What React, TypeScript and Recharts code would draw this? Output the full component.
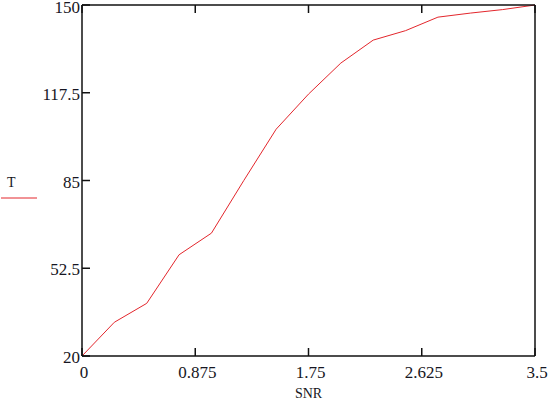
import { LineChart, Line, XAxis, YAxis } from "recharts";

// SNR values (x) and T values (y)
const snr = [0, 0.25, 0.5, 0.75, 1.0, 1.25, 1.5, 1.75, 2.0, 2.25, 2.5, 2.75, 3.0, 3.25, 3.5];
const tValues = [20, 32.5, 39.5, 57.5, 65.5, 85, 104, 117, 128.5, 137, 140.5, 145.5, 147, 148.3, 150];

const xTicks = [0, 0.875, 1.75, 2.625, 3.5];
const yTicks = [20, 52.5, 85, 117.5, 150];

const data = snr.map((s, i) => ({ snr: s, t: tValues[i] }));

const FONT = "'Liberation Serif', 'Times New Roman', serif";
const AXIS = "#111";
const TEXT = "#161622";
const RED = "#e3262c";
const TICK_LEN = 8;
const AXIS_LINE = { stroke: AXIS, strokeWidth: 1.5 };

// ticks point inward, like the original plot
const BottomTick = ({ x, y, payload }: any) => (
  <g>
    <line x1={x} y1={y} x2={x} y2={y - TICK_LEN} stroke={AXIS} strokeWidth={1.5} />
    <text x={x + 2} y={y + 22} textAnchor="middle" fontFamily={FONT} fontSize={17} fill={TEXT}>
      {payload.value}
    </text>
  </g>
);

const TopTick = ({ x, y }: any) => (
  <line x1={x} y1={y} x2={x} y2={y + TICK_LEN} stroke={AXIS} strokeWidth={1.5} />
);

const LeftTick = ({ x, y, payload }: any) => (
  <g>
    <line x1={x} y1={y} x2={x + TICK_LEN} y2={y} stroke={AXIS} strokeWidth={1.5} />
    {/* keep the top label inside the page */}
    <text x={x - 2} y={Math.max(y + 7, 13)} textAnchor="end" fontFamily={FONT} fontSize={17} fill={TEXT}>
      {payload.value}
    </text>
  </g>
);

const RightTick = ({ x, y }: any) => (
  <line x1={x} y1={y} x2={x - TICK_LEN} y2={y} stroke={AXIS} strokeWidth={1.5} />
);

const YTitle = () => (
  <g>
    <text x={7} y={187} fontFamily={FONT} fontSize={14} fill={TEXT}>
      T
    </text>
    <line x1={1} y1={198} x2={37} y2={198} stroke={RED} strokeWidth={1} />
  </g>
);

const XTitle = () => (
  <text x={308.5} y={398} textAnchor="middle" fontFamily={FONT} fontSize={14} fill={TEXT}>
    SNR
  </text>
);

export default function App() {
  return (
    <div style={{ position: "absolute", left: 0, top: 0, width: 550, height: 408, background: "#fff" }}>
      <LineChart width={550} height={408} data={data} margin={{ top: 4, right: 14, bottom: 0, left: 0 }}>
        <XAxis
          dataKey="snr"
          type="number"
          domain={[0, 3.5]}
          ticks={xTicks}
          interval={0}
          height={52}
          tickSize={0}
          tickMargin={0}
          axisLine={AXIS_LINE}
          tick={<BottomTick />}
          label={<XTitle />}
        />
        <XAxis
          xAxisId="top"
          orientation="top"
          dataKey="snr"
          type="number"
          domain={[0, 3.5]}
          ticks={xTicks}
          interval={0}
          height={1}
          tickSize={0}
          tickMargin={0}
          axisLine={AXIS_LINE}
          tick={<TopTick />}
        />
        <YAxis
          type="number"
          domain={[20, 150]}
          ticks={yTicks}
          interval={0}
          width={82}
          tickSize={0}
          tickMargin={0}
          axisLine={AXIS_LINE}
          tick={<LeftTick />}
          label={<YTitle />}
        />
        <YAxis
          yAxisId="right"
          orientation="right"
          type="number"
          domain={[20, 150]}
          ticks={yTicks}
          interval={0}
          width={1}
          tickSize={0}
          tickMargin={0}
          axisLine={AXIS_LINE}
          tick={<RightTick />}
        />
        <Line
          type="linear"
          dataKey="t"
          stroke={RED}
          strokeWidth={1}
          dot={false}
          isAnimationActive={false}
        />
      </LineChart>
    </div>
  );
}
